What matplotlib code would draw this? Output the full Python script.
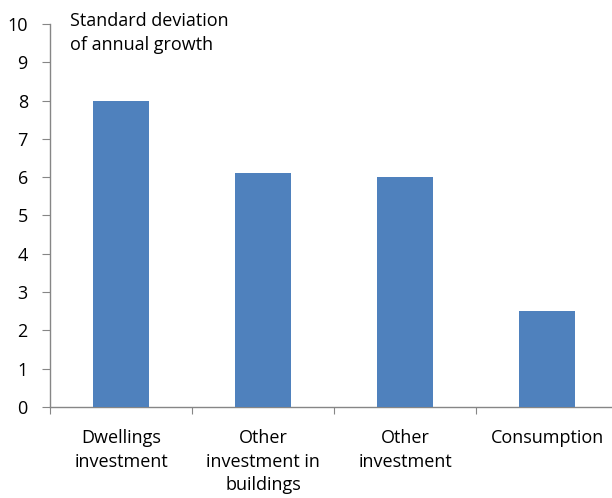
import matplotlib
matplotlib.use("Agg")
import matplotlib.pyplot as plt
import numpy as np

categories = ["Dwellings\ninvestment", "Other\ninvestment in\nbuildings", "Other\ninvestment", "Consumption"]
values = [8.0, 6.1, 6.0, 2.5]
yticks = [0, 1, 2, 3, 4, 5, 6, 7, 8, 9, 10]

plt.rcParams['font.family'] = ['Open Sans', 'DejaVu Sans']

fig = plt.figure(figsize=(6.12, 4.98), dpi=100)
W, H = 612, 498
x0, x1 = 50, 618
y0, y1 = 407, 24
ax = fig.add_axes([x0 / W, (H - y0) / H, (x1 - x0) / W, (y0 - y1) / H])

pos = np.arange(len(categories))
ax.bar(pos, values, width=0.4, color='#4F81BD', zorder=3)

ax.set_xlim(-0.5, len(categories) - 0.5)
ax.set_ylim(0, 10)
ax.set_yticks(yticks)
ax.set_yticklabels([str(t) for t in yticks], fontsize=13)

ax.set_xticks(np.arange(len(categories) + 1) - 0.5)
ax.set_xticklabels([])
ax.set_xticks(pos, minor=True)
ax.set_xticklabels(categories, minor=True, fontsize=13, linespacing=1.4)
ax.tick_params(axis='x', which='minor', length=0, pad=16)
ax.tick_params(axis='x', which='major', length=5, color='#868686', direction='out')
ax.tick_params(axis='y', length=6, color='#868686', direction='out', pad=10)

for s in ['top', 'right']:
    ax.spines[s].set_visible(False)
for s in ['left', 'bottom']:
    ax.spines[s].set_color('#868686')
    ax.spines[s].set_linewidth(1.0)

fig.text(70 / W, 1 - 33 / H, "Standard deviation\nof annual growth", fontsize=13,
         ha='left', va='center', linespacing=1.4)

fig.savefig("out.png", dpi=100)
